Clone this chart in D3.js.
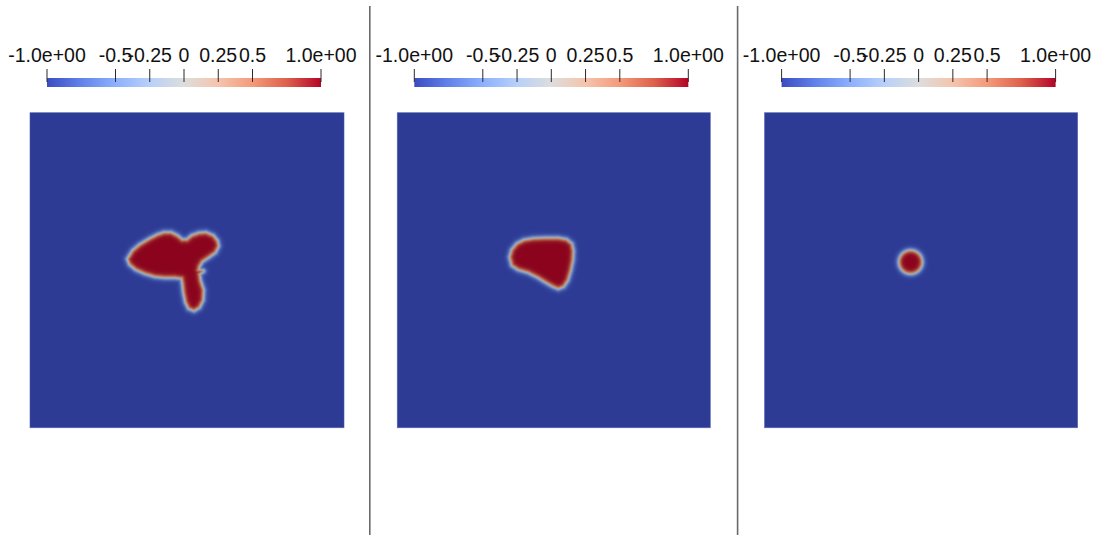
<!DOCTYPE html>
<html>
<head>
<meta charset="utf-8">
<script src="https://cdn.jsdelivr.net/npm/d3@7"></script>
<style>
  html, body { margin: 0; padding: 0; background: #ffffff; }
  svg { display: block; }
  text { font-family: "Liberation Sans", Arial, sans-serif; }
</style>
</head>
<body>
<svg id="chart" width="1099" height="535"></svg>
<script>
// Colour bar ticks
const tickValues = [-1, -0.5, -0.25, 0, 0.25, 0.5, 1];
const tickLabels = ["-1.0e+00", "-0.5", "-0.25", "0", "0.25", "0.5", "1.0e+00"];

// Cool-to-warm diverging colour map
const cmapStops  = [-1, -0.75, -0.5, -0.25, 0, 0.25, 0.5, 0.75, 1];
const cmapColors = ["#3b4cc0", "#6282ea", "#8db0fe", "#b8d0f9", "#dddddd",
                    "#f5c4ad", "#f49a7b", "#de604d", "#b40426"];

// Phase-field interfaces (unit square, y up), one per panel
const blobA = [
  [0.3126,0.5353],[0.3285,0.5607],[0.3509,0.5797],[0.3828,0.5988],[0.4083,0.6115],
  [0.4274,0.6179],[0.4498,0.6179],[0.4689,0.6083],[0.4849,0.5956],[0.5008,0.5956],
  [0.5167,0.6083],[0.5391,0.6163],[0.5614,0.6179],[0.5837,0.6083],[0.5965,0.5924],
  [0.5997,0.5766],[0.5901,0.5575],[0.5678,0.5416],[0.5486,0.5289],[0.5391,0.5130],
  [0.5359,0.5003],[0.5518,0.4971],[0.5391,0.4876],[0.5423,0.4654],[0.5518,0.4368],
  [0.5502,0.4050],[0.5391,0.3828],[0.5231,0.3733],[0.5072,0.3796],[0.4976,0.3987],
  [0.4912,0.4304],[0.4880,0.4590],[0.4849,0.4749],[0.4625,0.4781],[0.4306,0.4781],
  [0.3987,0.4813],[0.3668,0.4908],[0.3381,0.5035],[0.3190,0.5194]
];
const blobB = [
  [0.3604,0.5416],[0.3668,0.5639],[0.3828,0.5829],[0.4051,0.5940],[0.4338,0.5988],
  [0.4721,0.6004],[0.5136,0.6004],[0.5391,0.5956],[0.5550,0.5829],[0.5598,0.5607],
  [0.5582,0.5321],[0.5518,0.5003],[0.5423,0.4686],[0.5295,0.4495],[0.5136,0.4431],
  [0.4976,0.4495],[0.4753,0.4622],[0.4498,0.4781],[0.4179,0.4940],[0.3860,0.5035],
  [0.3668,0.5162]
];
const dropCenter = [0.4657, 0.5257];
const dropRadius = 0.038;
const interfaceWidth = 0.0085;   // tanh profile thickness
const interfaceShift = 0.003;    // zero level sits just outside the traced edge
const fieldShade = 0.77;         // surface lighting

const svg = d3.select("#chart");
const panelOffsets = [0, 367.3, 734.6];
const panels = [
  { kind: "poly", pts: blobA },
  { kind: "poly", pts: blobB },
  { kind: "circle", c: dropCenter, r: dropRadius }
];

const cmap = d3.scaleLinear().domain(cmapStops).range(cmapColors)
  .interpolate(d3.interpolateRgb).clamp(true);

function segDist(px, py, ax, ay, bx, by) {
  const dx = bx - ax, dy = by - ay;
  let t = ((px - ax) * dx + (py - ay) * dy) / (dx * dx + dy * dy);
  t = Math.max(0, Math.min(1, t));
  const qx = ax + t * dx - px, qy = ay + t * dy - py;
  return Math.sqrt(qx * qx + qy * qy);
}
function signedDist(p, u, v) {
  if (p.kind === "circle") {
    return p.r - Math.hypot(u - p.c[0], v - p.c[1]);
  }
  const pts = p.pts;
  let d = Infinity;
  for (let k = 0; k < pts.length; k++) {
    const a = pts[k], b = pts[(k + 1) % pts.length];
    d = Math.min(d, segDist(u, v, a[0], a[1], b[0], b[1]));
  }
  return (d3.polygonContains(pts, [u, v]) ? d : -d) + interfaceShift;
}

// separators between the three views
[369.8, 737.6].forEach(x => {
  svg.append("line").attr("x1", x).attr("x2", x).attr("y1", 6).attr("y2", 535)
    .attr("stroke", "#6a6a6a").attr("stroke-width", 1.6);
});

const defs = svg.append("defs");
const grad = defs.append("linearGradient").attr("id", "cw")
  .attr("x1", "0%").attr("x2", "100%").attr("y1", "0%").attr("y2", "0%");
cmapStops.forEach((s, i) => {
  grad.append("stop").attr("offset", ((s + 1) / 2 * 100) + "%").attr("stop-color", cmapColors[i]);
});

panels.forEach((p, pi) => {
  const off = panelOffsets[pi];
  const g = svg.append("g");

  // colour bar
  const bx = d3.scaleLinear().domain([-1, 1]).range([47 + off, 321 + off]);
  g.append("rect").attr("x", bx(-1)).attr("y", 78).attr("width", bx(1) - bx(-1)).attr("height", 9)
    .attr("fill", "url(#cw)");
  tickValues.forEach((t, i) => {
    g.append("line").attr("x1", bx(t)).attr("x2", bx(t)).attr("y1", 69).attr("y2", 82)
      .attr("stroke", "#2a2a2a").attr("stroke-width", 1);
    g.append("text").attr("x", bx(t)).attr("y", 62).attr("text-anchor", "middle")
      .attr("font-size", 19.5).attr("fill", "#111").text(tickLabels[i]);
  });

  // field
  const xs = d3.scaleLinear().domain([0, 1]).range([30 + off, 343.5 + off]);
  const ys = d3.scaleLinear().domain([0, 1]).range([427.5, 112.7]);
  const W = Math.round(xs(1) - xs(0)), H = Math.round(ys(0) - ys(1));
  const canvas = document.createElement("canvas");
  canvas.width = W; canvas.height = H;
  const ctx = canvas.getContext("2d");
  const img = ctx.createImageData(W, H);
  for (let j = 0; j < H; j++) {
    const v = ys.invert(ys(1) + j + 0.5);
    for (let i = 0; i < W; i++) {
      const u = xs.invert(xs(0) + i + 0.5);
      const phi = Math.tanh(signedDist(p, u, v) / interfaceWidth);
      const c = d3.rgb(cmap(phi));
      const k = (j * W + i) * 4;
      img.data[k] = c.r * fieldShade;
      img.data[k + 1] = c.g * fieldShade;
      img.data[k + 2] = c.b * fieldShade;
      img.data[k + 3] = 255;
    }
  }
  ctx.putImageData(img, 0, 0);
  g.append("image").attr("x", xs(0)).attr("y", ys(1)).attr("width", W).attr("height", H)
    .attr("preserveAspectRatio", "none").attr("href", canvas.toDataURL());
  g.append("rect").attr("x", xs(0)).attr("y", ys(1)).attr("width", W).attr("height", H)
    .attr("fill", "none").attr("stroke", "#4658b0").attr("stroke-width", 0.8).attr("stroke-opacity", 0.7);
});
</script>
</body>
</html>
